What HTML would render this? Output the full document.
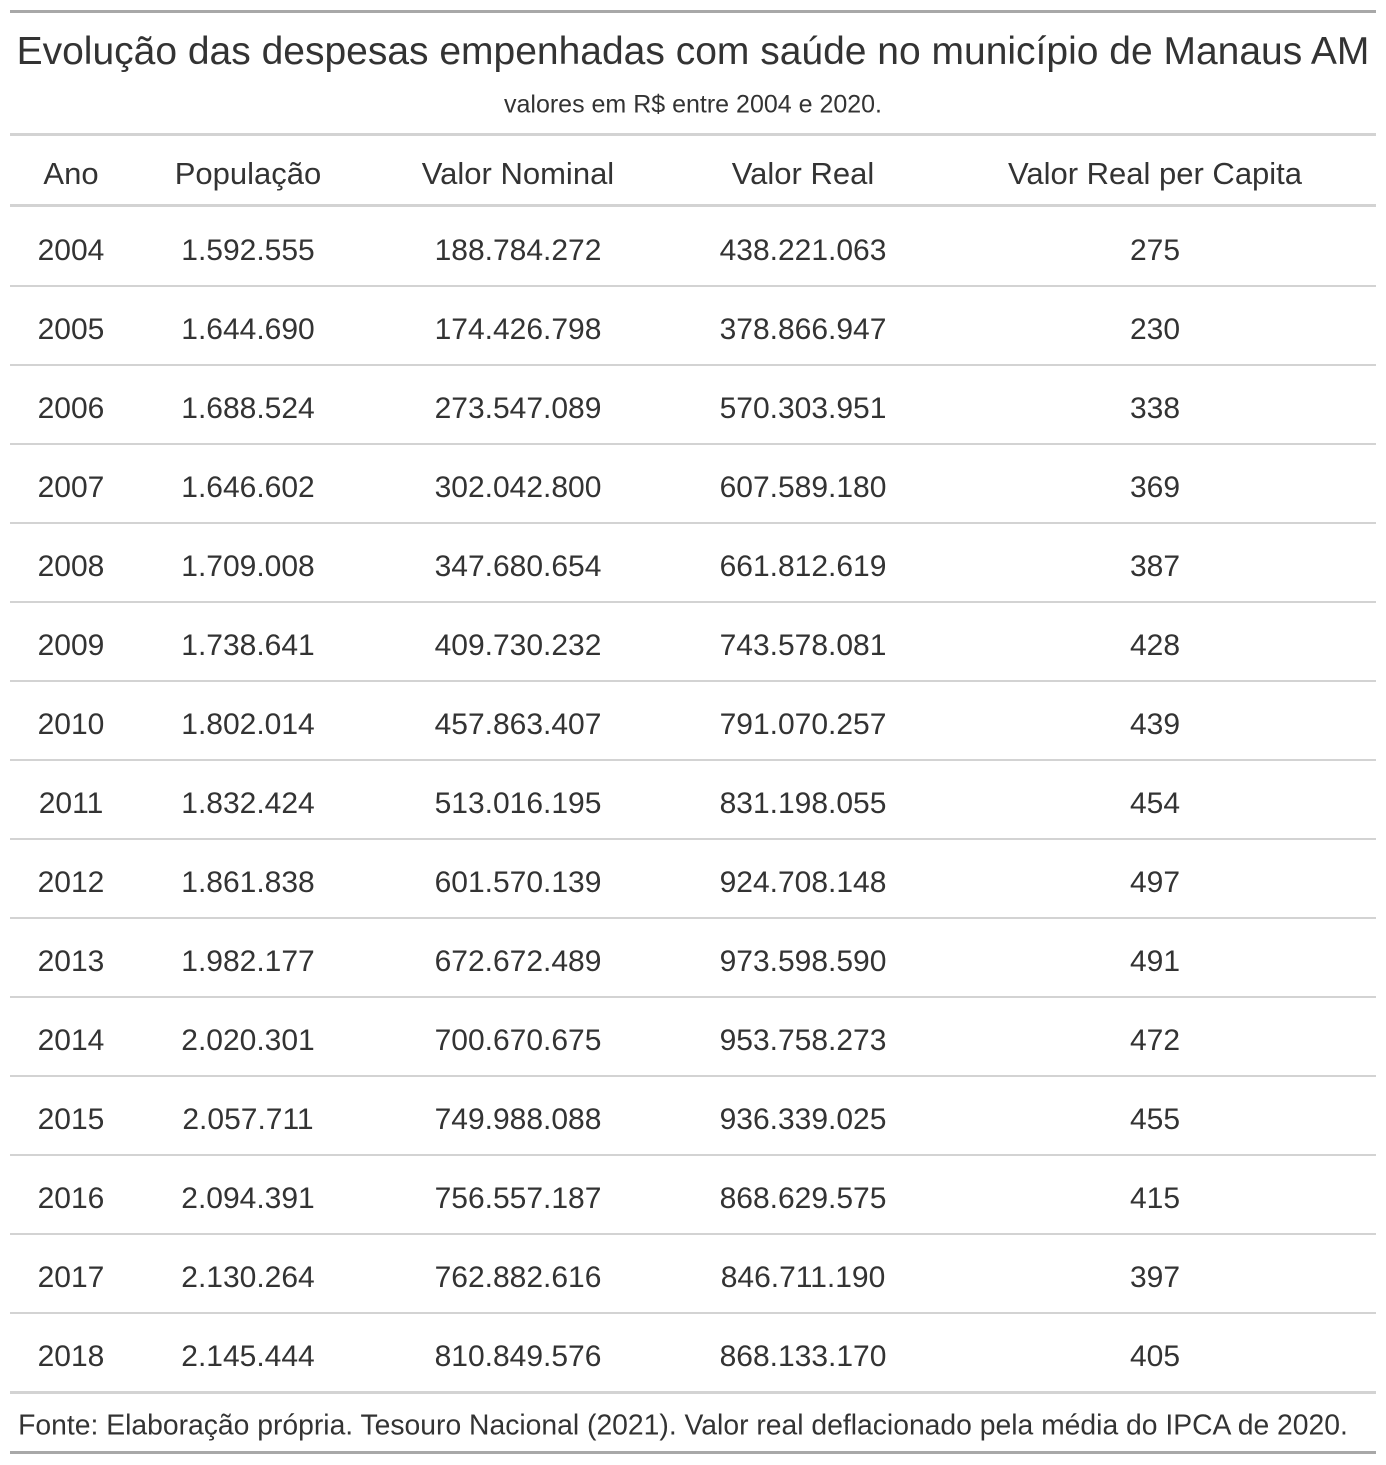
<!DOCTYPE html>
<html><head><meta charset="utf-8">
<style>
html,body{margin:0;padding:0;background:#fff;}
body{width:1386px;height:1465px;position:relative;overflow:hidden;font-family:"Liberation Sans",sans-serif;color:#333;}
.ab{position:absolute;}
.hl{position:absolute;left:10px;width:1366px;}
.t{position:absolute;white-space:nowrap;transform:translate(-50%,-50%);}
</style></head>
<body>
<div class="hl" style="top:10px;height:3px;background:#a8a8a8"></div>
<div class="t" style="left:693px;top:52px;font-size:39px;">Evolução das despesas empenhadas com saúde no município de Manaus AM</div>
<div class="t" style="left:693px;top:105px;font-size:25px;">valores em R$ entre 2004 e 2020.</div>
<div class="hl" style="top:133px;height:3px;background:#d3d3d3"></div>
<div class="hl" style="top:204px;height:3px;background:#d3d3d3"></div>
<div id="tbl"></div>
<div class="hl" style="top:1391px;height:3px;background:#d3d3d3"></div>
<div class="t" style="left:683px;top:1425px;font-size:28.3px;">Fonte: Elaboração própria. Tesouro Nacional (2021). Valor real deflacionado pela média do IPCA de 2020.</div>
<div class="hl" style="top:1451px;height:3px;background:#a8a8a8"></div>
<script>
const headers=["Ano","População","Valor Nominal","Valor Real","Valor Real per Capita"];
const years=["2004","2005","2006","2007","2008","2009","2010","2011","2012","2013","2014","2015","2016","2017","2018"];
const populacao=["1.592.555","1.644.690","1.688.524","1.646.602","1.709.008","1.738.641","1.802.014","1.832.424","1.861.838","1.982.177","2.020.301","2.057.711","2.094.391","2.130.264","2.145.444"];
const nominal=["188.784.272","174.426.798","273.547.089","302.042.800","347.680.654","409.730.232","457.863.407","513.016.195","601.570.139","672.672.489","700.670.675","749.988.088","756.557.187","762.882.616","810.849.576"];
const real=["438.221.063","378.866.947","570.303.951","607.589.180","661.812.619","743.578.081","791.070.257","831.198.055","924.708.148","973.598.590","953.758.273","936.339.025","868.629.575","846.711.190","868.133.170"];
const perCapita=["275","230","338","369","387","428","439","454","497","491","472","455","415","397","405"];
const colX=[71,248,518,803,1155];
const tbl=document.getElementById('tbl');
headers.forEach((h,i)=>{
  const d=document.createElement('div');
  d.className='t';
  
  
  d.style.left=colX[i]+'px';d.style.top='174px';d.style.fontSize='31px';
  d.textContent=h;tbl.appendChild(d);
});
const cols=[years,populacao,nominal,real,perCapita];
years.forEach((y,r)=>{
  const cy=249+r*79;
  cols.forEach((c,i)=>{
    const d=document.createElement('div');
    d.className='t';
    
    
    d.style.left=colX[i]+'px';d.style.top=(cy+2)+'px';d.style.fontSize='30px';
    d.textContent=c[r];tbl.appendChild(d);
  });
  if(r<years.length-1){
    const l=document.createElement('div');
    l.className='hl';
    
    
    l.style.top=(cy+36)+'px';l.style.height='2px';l.style.background='#d3d3d3';
    tbl.appendChild(l);
  }
});
</script>
</body></html>
